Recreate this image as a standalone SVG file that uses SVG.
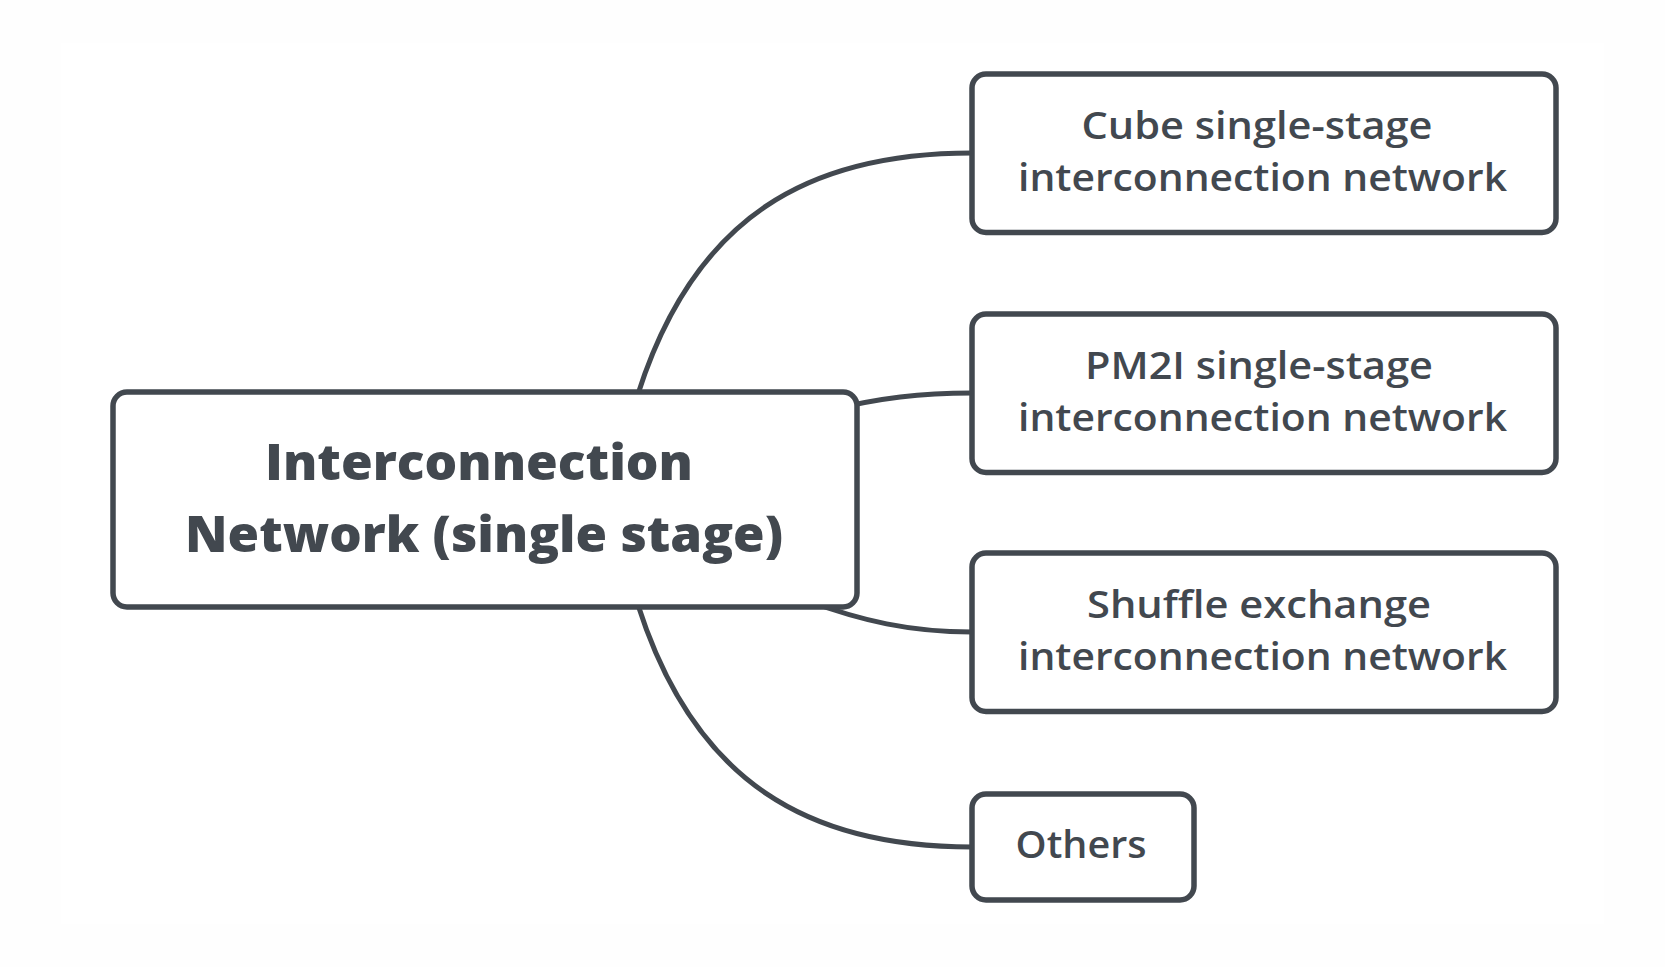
<svg xmlns="http://www.w3.org/2000/svg" width="1665" height="967" viewBox="0 0 1665 967">
<style>
.bg{fill:#fefefe}
.node rect{fill:#ffffff;stroke:#42484f;stroke-width:5.5}
.conn path{fill:none;stroke:#42484f;stroke-width:5}
.t{font-family:"Open Sans","Liberation Sans",sans-serif;font-weight:600;font-size:37px;fill:#42484f;text-anchor:middle}
.tc{font-family:"Open Sans","Liberation Sans",sans-serif;font-weight:800;font-size:49px;fill:#42484f;text-anchor:middle}
</style>
<rect class="bg" x="0" y="0" width="1665" height="967"/>
<rect x="61" y="43" width="1543" height="881" fill="#ffffff"/>
<g id="connectors" class="conn">
<path d="M638,394 C695,215 810,153 972,153"/>
<path d="M830,410 C880,398 920,393 972,393"/>
<path d="M805,600 C862,621 910,632 972,632"/>
<path d="M638,605 C695,784 810,847 972,847"/>
</g>
<g id="central" class="node">
<rect x="113" y="392" width="744" height="215" rx="14"/>
<text class="tc" x="479" y="480" textLength="428" lengthAdjust="spacingAndGlyphs">Interconnection</text>
<text class="tc" x="484" y="552" textLength="598" lengthAdjust="spacingAndGlyphs">Network (single stage)</text>
</g>
<g id="cube" class="node">
<rect x="972" y="74" width="584" height="158.5" rx="14"/>
<text class="t" x="1257" y="138.5" textLength="351" lengthAdjust="spacingAndGlyphs">Cube single-stage</text>
<text class="t" x="1262.5" y="190.5" textLength="489" lengthAdjust="spacingAndGlyphs">interconnection network</text>
</g>
<g id="pm2i" class="node">
<rect x="972" y="314" width="584" height="158.5" rx="14"/>
<text class="t" x="1259" y="378.5" textLength="348" lengthAdjust="spacingAndGlyphs">PM2I single-stage</text>
<text class="t" x="1262.5" y="430.5" textLength="489" lengthAdjust="spacingAndGlyphs">interconnection network</text>
</g>
<g id="shuffle" class="node">
<rect x="972" y="553" width="584" height="158.5" rx="14"/>
<text class="t" x="1259" y="617.5" textLength="344" lengthAdjust="spacingAndGlyphs">Shuffle exchange</text>
<text class="t" x="1262.5" y="669.5" textLength="489" lengthAdjust="spacingAndGlyphs">interconnection network</text>
</g>
<g id="others" class="node">
<rect x="972" y="794" width="222" height="106" rx="14"/>
<text class="t" x="1081" y="857.5" textLength="131" lengthAdjust="spacingAndGlyphs">Others</text>
</g>
</svg>
